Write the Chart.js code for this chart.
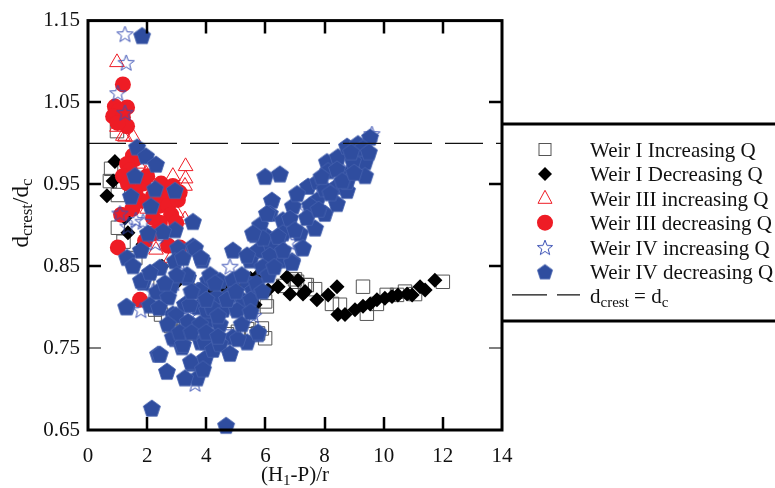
<!DOCTYPE html>
<html>
<head>
<meta charset="utf-8">
<script src="https://cdn.jsdelivr.net/npm/chart.js@4.4.0/dist/chart.umd.min.js"></script>
<style>
  html, body { margin: 0; padding: 0; background: #fff; }
  canvas { display: block; }
</style>
</head>
<body>
<canvas id="grafico" width="775" height="488"></canvas>
<script>
const xTicks = [0, 2, 4, 6, 8, 10, 12, 14];
const yTicks = [0.65, 0.75, 0.85, 0.95, 1.05, 1.15];

const seriesNames = [
  "Weir I Increasing Q",
  "Weir I Decreasing Q",
  "Weir III increasing Q",
  "Weir III decreasing Q",
  "Weir IV increasing Q",
  "Weir IV decreasing Q"
];

// linha de referencia dcrest = dc
const crestX = [0, 14];
const crestY = [1.0, 1.0];

// [ (H1-P)/r , dcrest/dc ]
const weirIInc = [
  [0.78,0.969],[0.74,0.954],[1.01,0.937],[0.98,1.015],[1.01,0.897],[1.2,0.88],[1.6,0.86],[2.0,0.83],
  [2.27,0.797],[2.47,0.791],[2.71,0.783],[2.81,0.777],[2.87,0.779],[3.1,0.770],[3.21,0.773],[3.38,0.768],
  [3.62,0.770],[3.69,0.773],[3.89,0.768],[4.1,0.772],[4.36,0.770],[4.7,0.767],[5.07,0.770],[5.38,0.773],
  [5.55,0.767],[5.75,0.768],[5.88,0.774],[5.99,0.762],[5.38,0.767],[4.5,0.80],[5.0,0.81],[5.99,0.807],
  [6.05,0.801],[6.6,0.826],[7.0,0.834],[7.07,0.831],[7.34,0.827],[7.4,0.827],[7.68,0.822],[8.25,0.804],
  [8.52,0.803],[9.3,0.825],[9.43,0.792],[9.77,0.804],[10.1,0.815],[10.45,0.815],[10.72,0.819],[11.06,0.816],
  [12.0,0.831]
];

const weirIDec = [
  [0.64,0.936],[0.91,0.978],[0.85,0.954],[1.25,0.909],[1.35,0.891],[1.86,0.877],[2.5,0.85],[3.0,0.83],
  [3.6,0.82],[4.1,0.82],[4.6,0.825],[5.1,0.83],[5.5,0.835],[5.75,0.839],[5.41,0.797],[5.65,0.803],
  [6.09,0.821],[6.43,0.825],[6.73,0.837],[7.1,0.833],[6.83,0.816],[7.27,0.816],[7.34,0.819],[7.74,0.809],
  [8.12,0.815],[8.42,0.825],[8.45,0.791],[8.69,0.791],[9.03,0.797],[9.3,0.801],[9.54,0.804],[9.77,0.809],
  [10.04,0.811],[10.28,0.813],[10.48,0.815],[10.79,0.816],[10.96,0.815],[11.23,0.825],[11.4,0.821],[11.73,0.833]
];

const weirIIIInc = [
  [0.98,1.099],[0.98,1.02],[1.18,1.009],[1.52,1.008],[1.25,1.008],[1.1,1.03],[1.7,0.975],[1.96,0.963],
  [2.87,0.960],[3.3,0.972],[3.3,0.957],[3.28,0.948],[3.28,0.907],[2.2,0.95],[2.6,0.94],[2.0,0.92],
  [2.5,0.90],[3.0,0.915],[2.3,0.87],[2.8,0.86]
];

const weirIIIDec = [
  [1.18,1.072],[0.91,1.045],[1.32,1.044],[1.05,1.04],[0.85,1.033],[1.18,1.032],[1.32,1.021],[1.0,1.025],
  [1.59,0.981],[1.52,0.985],[1.32,0.975],[1.42,0.967],[1.18,0.96],[1.35,0.951],[1.86,0.951],[2.47,0.951],
  [2.6,0.937],[2.43,0.924],[2.71,0.924],[3.04,0.931],[2.87,0.948],[2.2,0.936],[1.79,0.930],[1.12,0.913],
  [2.81,0.913],[2.98,0.903],[2.43,0.903],[2.2,0.909],[1.01,0.873],[1.93,0.881],[2.71,0.875],[3.1,0.873],
  [1.76,0.809],[2.0,0.96],[1.6,0.94],[2.2,0.89],[3.1,0.94],[1.5,0.92]
];

const weirIVInc = [
  [1.25,1.134],[1.29,1.099],[1.01,1.062],[1.25,1.038],[1.08,0.915],[1.62,0.907],[1.86,0.905],[1.35,0.899],
  [2.27,0.879],[1.79,0.797],[2.2,0.82],[3.62,0.707],[9.6,1.012],[4.3,0.815],[5.0,0.80],[5.6,0.79],
  [3.4,0.79],[4.6,0.77],[6.0,0.84],[6.8,0.88],[7.4,0.92],[8.0,0.94],[8.6,0.97],[9.2,0.99],
  [2.9,0.83],[3.1,0.855],[5.4,0.835],[6.3,0.86],[4.8,0.85]
];

const weirIVDec = [
  [1.83,1.132],
  [1.66,0.996],[1.96,0.985],[2.30,0.975],[1.59,0.961],[2.27,0.945],[2.94,0.943],[1.45,0.936],[2.13,0.924],
  [3.55,0.905],[2.94,0.895],[2.54,0.893],[2.03,0.891],[3.55,0.875],[3.04,0.873],[1.79,0.870],
  [1.32,0.861],[1.52,0.851],[1.86,0.831],[2.33,0.819],[1.32,0.801],[2.10,0.803],[2.87,0.792],[2.94,0.762],
  [3.18,0.752],[2.37,0.743],[2.67,0.722],[3.52,0.732],[3.69,0.714],
  [3.62,0.873],[3.86,0.858],[4.90,0.870],[5.65,0.889],[6.05,0.887],[6.49,0.889],[5.75,0.870],[6.22,0.873],
  [6.49,0.858],[6.90,0.857],[7.24,0.873],[5.48,0.858],
  [5.99,0.960],[6.49,0.963],[6.22,0.931],[6.15,0.915],[5.82,0.901],[5.92,0.885],[6.59,0.907],[6.93,0.924],
  [7.17,0.891],[7.68,0.897],[7.27,0.873],[7.44,0.948],[7.78,0.954],[8.08,0.978],[8.45,0.984],[8.76,0.997],
  [9.10,0.991],[9.37,0.978],[9.37,0.961],[8.76,0.963],[8.42,0.948],[8.76,0.943],[8.01,0.915],[8.42,0.927],
  [8.76,0.954],[7.74,0.931],[8.01,0.945],[8.12,0.967],[8.42,0.969],[8.96,0.979],[9.13,1.0],[9.54,1.008],
  [7.51,0.925],[7.07,0.939],[6.83,0.909],[6.59,0.891],
  [6.90,0.855],[6.05,0.915],[5.58,0.891],[6.43,0.887],[5.38,0.864],[6.15,0.864],[5.75,0.768],[5.38,0.758],
  [3.82,0.861],[2.94,0.857],[2.43,0.849],[1.79,0.833],[2.10,0.843],[1.29,0.801],[2.81,0.827],[3.38,0.837],
  [3.72,0.821],[4.06,0.833],[2.71,0.813],[3.28,0.804],[3.72,0.801],[4.06,0.804],[2.98,0.791],[3.38,0.783],
  [3.82,0.780],[4.16,0.785],[2.87,0.764],[3.21,0.755],[2.43,0.743],[3.48,0.734],[3.96,0.738],[3.82,0.758],
  [4.23,0.761],
  [3.35,0.840],[4.13,0.840],[4.46,0.833],[4.90,0.834],[5.38,0.831],[5.58,0.821],[5.24,0.809],[4.80,0.816],
  [4.36,0.813],[3.79,0.821],[3.45,0.804],[4.02,0.797],[4.57,0.798],[5.04,0.797],[3.79,0.780],[4.46,0.780],
  [4.90,0.764],[3.21,0.861],
  [3.89,0.725],[3.28,0.714],[3.96,0.758],[4.23,0.749],[4.46,0.756],[4.80,0.744],[5.07,0.762],[5.75,0.770],
  [4.20,0.800],[4.40,0.790],[4.70,0.810],[5.00,0.820],[5.20,0.840],[5.50,0.810],[5.70,0.830],[5.90,0.850],
  [6.10,0.840],[4.00,0.810],[4.30,0.830],[3.50,0.820],[3.00,0.840],[2.60,0.830],[2.40,0.800],[2.70,0.780],
  [3.10,0.770],[3.50,0.770],[4.00,0.770],[4.40,0.765],[5.20,0.780],[5.50,0.795],[5.90,0.820],[6.30,0.850],
  [6.60,0.870],[7.00,0.895],[7.40,0.910],[7.80,0.920],[8.20,0.940],[8.60,0.955],[9.00,0.965],[9.30,0.995],
  [9.50,0.990],[8.90,0.990],[7.90,0.960],
  [2.16,0.677],[4.67,0.656]
];

// ======================
// MARCADORES
// ======================

function pentagono(r, fill, stroke) {
  const c = document.createElement("canvas");
  const s = Math.ceil(r * 2 + 4);
  c.width = s; c.height = s;
  const g = c.getContext("2d");
  g.beginPath();
  for (let i = 0; i < 5; i++) {
    const a = -Math.PI / 2 + i * 2 * Math.PI / 5;
    g.lineTo(s / 2 + r * Math.cos(a), s / 2 + 1 + r * Math.sin(a));
  }
  g.closePath();
  g.fillStyle = fill;
  g.fill();
  g.strokeStyle = stroke;
  g.lineWidth = 0.8;
  g.stroke();
  return c;
}

function estrela(r, stroke) {
  const c = document.createElement("canvas");
  const s = Math.ceil(r * 2 + 4);
  c.width = s; c.height = s;
  const g = c.getContext("2d");
  g.beginPath();
  for (let i = 0; i < 10; i++) {
    const a = -Math.PI / 2 + i * Math.PI / 5;
    const rr = i % 2 === 0 ? r : r * 0.42;
    g.lineTo(s / 2 + rr * Math.cos(a), s / 2 + 1 + rr * Math.sin(a));
  }
  g.closePath();
  g.strokeStyle = stroke;
  g.lineWidth = 1;
  g.stroke();
  return c;
}

const AZUL = "#2f4d9f";
const VERMELHO = "#ee1c25";
const imgPent = pentagono(9, AZUL, "#4964b0");
const imgEstrela = estrela(8.5, "#3a50b4");
const imgPentLeg = pentagono(8, AZUL, "#4964b0");
const imgEstrelaLeg = estrela(8, "#3a50b4");

const pts = arr => arr.map(p => ({ x: p[0], y: p[1] }));

// ======================
// EIXOS, TITULOS, LEGENDA
// ======================

const FONTE = "'Liberation Serif', 'Times New Roman', serif";

function textoRico(ctx, partes, x, y, alinhar, tam) {
  const grande = tam || 21, peq = Math.round(grande * 0.72);
  let total = 0;
  partes.forEach(p => {
    ctx.font = (p.sub ? peq : grande) + "px " + FONTE;
    p.w = ctx.measureText(p.t).width;
    total += p.w;
  });
  let cx = alinhar === "center" ? x - total / 2 : x;
  ctx.textAlign = "left";
  ctx.textBaseline = "alphabetic";
  partes.forEach(p => {
    ctx.font = (p.sub ? peq : grande) + "px " + FONTE;
    ctx.fillText(p.t, cx, y + (p.sub ? 4 : 0));
    cx += p.w;
  });
}

const molduraPlugin = {
  id: "moldura",
  afterDraw(chart) {
    const ctx = chart.ctx;
    const a = chart.chartArea;
    const xs = chart.scales.x, ys = chart.scales.y;
    ctx.save();
    ctx.strokeStyle = "#000";
    ctx.fillStyle = "#111";

    // ticks internos
    ctx.lineWidth = 2.5;
    xTicks.slice(1, -1).forEach(v => {
      const px = Math.round(xs.getPixelForValue(v));
      ctx.beginPath();
      ctx.moveTo(px, a.bottom); ctx.lineTo(px, a.bottom - 13);
      ctx.moveTo(px, a.top); ctx.lineTo(px, a.top + 13);
      ctx.stroke();
    });
    yTicks.slice(1, -1).forEach(v => {
      const py = Math.round(ys.getPixelForValue(v));
      ctx.lineWidth = v < 0.8 ? 1.2 : 2.5;
      ctx.beginPath();
      ctx.moveTo(a.left, py); ctx.lineTo(a.left + 13, py);
      ctx.moveTo(a.right, py); ctx.lineTo(a.right - 13, py);
      ctx.stroke();
    });

    // moldura
    ctx.lineWidth = 3;
    ctx.strokeRect(a.left, a.top, a.right - a.left, a.bottom - a.top);

    // caixa da legenda
    ctx.beginPath();
    ctx.moveTo(a.right, 124); ctx.lineTo(chart.width, 124);
    ctx.moveTo(a.right, 321); ctx.lineTo(chart.width, 321);
    ctx.stroke();

    // titulo x
    textoRico(ctx, [{ t: "(H" }, { t: "1", sub: true }, { t: "-P)/r" }], (a.left + a.right) / 2, 481, "center");

    // titulo y
    ctx.save();
    ctx.translate(28, 213);
    ctx.rotate(-Math.PI / 2);
    textoRico(ctx, [{ t: "d" }, { t: "crest", sub: true }, { t: "/d" }, { t: "c", sub: true }], 0, 0, "center", 23);
    ctx.restore();

    // legenda
    const mx = 545, tx = 590;
    const base = i => 157 + i * 24.4;
    seriesNames.forEach((nome, i) => {
      const cy = base(i) - 7.5;
      ctx.save();
      if (i === 0) {
        ctx.lineWidth = 1; ctx.strokeStyle = "#555";
        ctx.strokeRect(mx - 6, cy - 6, 12, 12);
      } else if (i === 1) {
        ctx.fillStyle = "#000";
        ctx.beginPath();
        ctx.moveTo(mx, cy - 7); ctx.lineTo(mx + 7, cy); ctx.lineTo(mx, cy + 7); ctx.lineTo(mx - 7, cy);
        ctx.closePath(); ctx.fill();
      } else if (i === 2) {
        ctx.lineWidth = 1; ctx.strokeStyle = VERMELHO;
        ctx.beginPath();
        ctx.moveTo(mx, cy - 8); ctx.lineTo(mx + 7, cy + 5); ctx.lineTo(mx - 7, cy + 5);
        ctx.closePath(); ctx.stroke();
      } else if (i === 3) {
        ctx.fillStyle = VERMELHO;
        ctx.beginPath(); ctx.arc(mx, cy, 8, 0, Math.PI * 2); ctx.fill();
      } else if (i === 4) {
        ctx.drawImage(imgEstrelaLeg, mx - imgEstrelaLeg.width / 2, cy - imgEstrelaLeg.height / 2);
      } else {
        ctx.drawImage(imgPentLeg, mx - imgPentLeg.width / 2, cy - imgPentLeg.height / 2);
      }
      ctx.restore();
      ctx.fillStyle = "#111";
      ctx.font = "21px " + FONTE;
      ctx.textAlign = "left";
      ctx.textBaseline = "alphabetic";
      ctx.fillText(nome, tx, base(i));
    });

    // linha tracejada da legenda
    const ly = base(6) - 8.5;
    ctx.lineWidth = 1.3;
    ctx.strokeStyle = "#111";
    ctx.beginPath();
    ctx.moveTo(512, ly); ctx.lineTo(547, ly);
    ctx.moveTo(557, ly); ctx.lineTo(580, ly);
    ctx.stroke();
    textoRico(ctx, [{ t: "d" }, { t: "crest", sub: true }, { t: " = d" }, { t: "c", sub: true }], tx, base(6), "left");

    ctx.restore();
  }
};

// ======================
// GRAFICO
// ======================

Chart.defaults.font.family = FONTE;

new Chart(document.getElementById("grafico"), {
  type: "scatter",
  data: {
    datasets: [
      {
        type: "line",
        data: crestX.map((x, i) => ({ x, y: crestY[i] })),
        borderColor: "#111",
        borderWidth: 1.3,
        borderDash: [38, 13],
        pointRadius: 0,
        order: 0
      },
      {
        label: seriesNames[0], data: pts(weirIInc),
        pointStyle: "rect", pointRadius: 9.5, pointBorderWidth: 1,
        pointBorderColor: "#555", pointBackgroundColor: "rgba(0,0,0,0)", order: 6
      },
      {
        label: seriesNames[1], data: pts(weirIDec),
        pointStyle: "rectRot", pointRadius: 7.5, pointBorderWidth: 0,
        pointBackgroundColor: "#000", pointBorderColor: "#000", order: 5
      },
      {
        label: seriesNames[2], data: pts(weirIIIInc),
        pointStyle: "triangle", pointRadius: 8.5, pointBorderWidth: 1,
        pointBorderColor: VERMELHO, pointBackgroundColor: "rgba(0,0,0,0)", order: 4
      },
      {
        label: seriesNames[3], data: pts(weirIIIDec),
        pointStyle: "circle", pointRadius: 8, pointBorderWidth: 0,
        pointBackgroundColor: VERMELHO, pointBorderColor: VERMELHO, order: 3
      },
      {
        label: seriesNames[4], data: pts(weirIVInc),
        pointStyle: imgEstrela, pointRadius: 8, order: 2
      },
      {
        label: seriesNames[5], data: pts(weirIVDec),
        pointStyle: imgPent, pointRadius: 9, order: 1, clip: false
      }
    ]
  },
  options: {
    responsive: false,
    animation: false,
    events: [],
    layout: { padding: { top: 15, right: 273, left: 0, bottom: 0 } },
    plugins: {
      legend: { display: false },
      tooltip: { enabled: false }
    },
    scales: {
      x: {
        type: "linear",
        min: 0, max: 14,
        grid: { display: false, drawTicks: false },
        border: { display: false },
        ticks: { color: "#111", font: { size: 21 }, padding: 14 },
        afterBuildTicks: s => { s.ticks = xTicks.map(v => ({ value: v })); },
        afterFit: s => { s.height = 58; }
      },
      y: {
        min: 0.65, max: 1.15,
        grid: { display: false, drawTicks: false },
        border: { display: false },
        ticks: { color: "#111", font: { size: 21 }, padding: 8, callback: v => v.toFixed(2) },
        afterBuildTicks: s => { s.ticks = yTicks.map(v => ({ value: v })); },
        afterFit: s => { s.width = 88; }
      }
    }
  },
  plugins: [molduraPlugin]
});
</script>
</body>
</html>
